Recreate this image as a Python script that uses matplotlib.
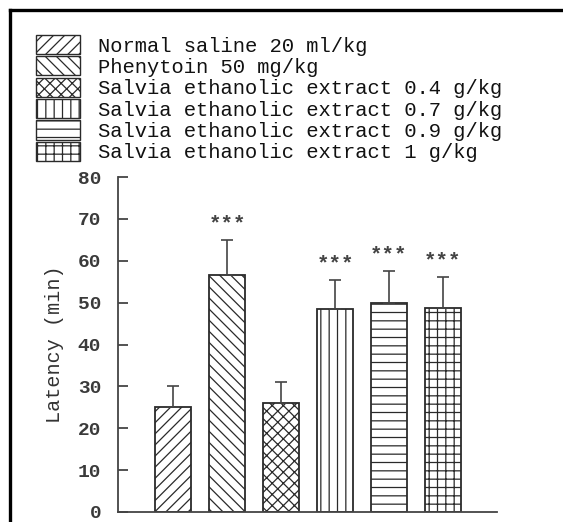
import numpy as np
import matplotlib
matplotlib.use("Agg")
import matplotlib.pyplot as plt
from matplotlib.patches import Patch
from matplotlib.lines import Line2D

plt.rcParams['font.family'] = ['Liberation Mono', 'DejaVu Sans Mono']
plt.rcParams['hatch.linewidth'] = 0.9
plt.rcParams['hatch.color'] = '#2a2a2a'

# data
groups = ['Normal saline 20 ml/kg',
          'Phenytoin 50 mg/kg',
          'Salvia ethanolic extract 0.4 g/kg',
          'Salvia ethanolic extract 0.7 g/kg',
          'Salvia ethanolic extract 0.9 g/kg',
          'Salvia ethanolic extract 1 g/kg']
latency = [25.1, 56.6, 26.1, 48.5, 50.0, 48.6]
sem = [5.0, 8.4, 4.9, 7.0, 7.5, 7.5]
signif = ['', '***', '', '***', '***', '***']
hatches = ['///', '\\\\\\', 'xxx', '||', '--', '++']
yticks = [0, 10, 20, 30, 40, 50, 60, 70, 80]

ink = '#2a2a2a'

fig = plt.figure(figsize=(5.63, 5.22), dpi=100)
ax = fig.add_axes([118/563, 1 - 512/522, (497-118)/563, (512-177)/522])

x = np.arange(len(latency))
ax.bar(x, latency, width=0.67, color='white', edgecolor=ink,
       linewidth=1.3, hatch=hatches, zorder=2)
ax.errorbar(x, latency, yerr=[np.zeros(len(sem)), sem], fmt='none',
            ecolor='#444444', elinewidth=1.2, capsize=4, capthick=1.2, zorder=3)
for xi, y, e, s in zip(x, latency, sem, signif):
    if s:
        ax.text(xi, y + e + 1.6, s, ha='center', va='bottom',
                fontsize=15, fontweight='bold', color='#444444')

ax.set_xlim(-1.02, 6.0)
ax.set_ylim(0, 80)
ax.set_yticks(yticks)
ax.set_xticks([])
for side in ['top', 'right']:
    ax.spines[side].set_visible(False)
for side in ['left', 'bottom']:
    ax.spines[side].set_color('#444444')
    ax.spines[side].set_linewidth(1.3)
ax.tick_params(axis='y', direction='in', length=7, width=1.3, color='#444444',
               labelsize=14, labelcolor='#3a3a3a', pad=12)
for lab in ax.get_yticklabels():
    lab.set_fontweight('bold')
    lab.set_verticalalignment('center_baseline')
ax.set_ylabel('Latency (min)', fontsize=14.5, color='#333333', labelpad=10)

handles = [Patch(facecolor='white', edgecolor=ink, linewidth=1.0, hatch=h)
           for h in hatches]
fig.legend(handles, groups, loc='upper left',
           bbox_to_anchor=(36/563, 1 - 35/522), frameon=False,
           fontsize=14.8, labelspacing=0.04, handleheight=1.05,
           handlelength=2.15, handletextpad=0.85, borderpad=0,
           borderaxespad=0, labelcolor='#111111')

# scanned frame lines
fig.add_artist(Line2D([10/563, 1], [1 - 10/522, 1 - 10/522],
                      transform=fig.transFigure, color='black', linewidth=2.4))
fig.add_artist(Line2D([10/563, 10/563], [0, 1 - 10/522],
                      transform=fig.transFigure, color='black', linewidth=2.4))

fig.savefig('out.png', dpi=100)
